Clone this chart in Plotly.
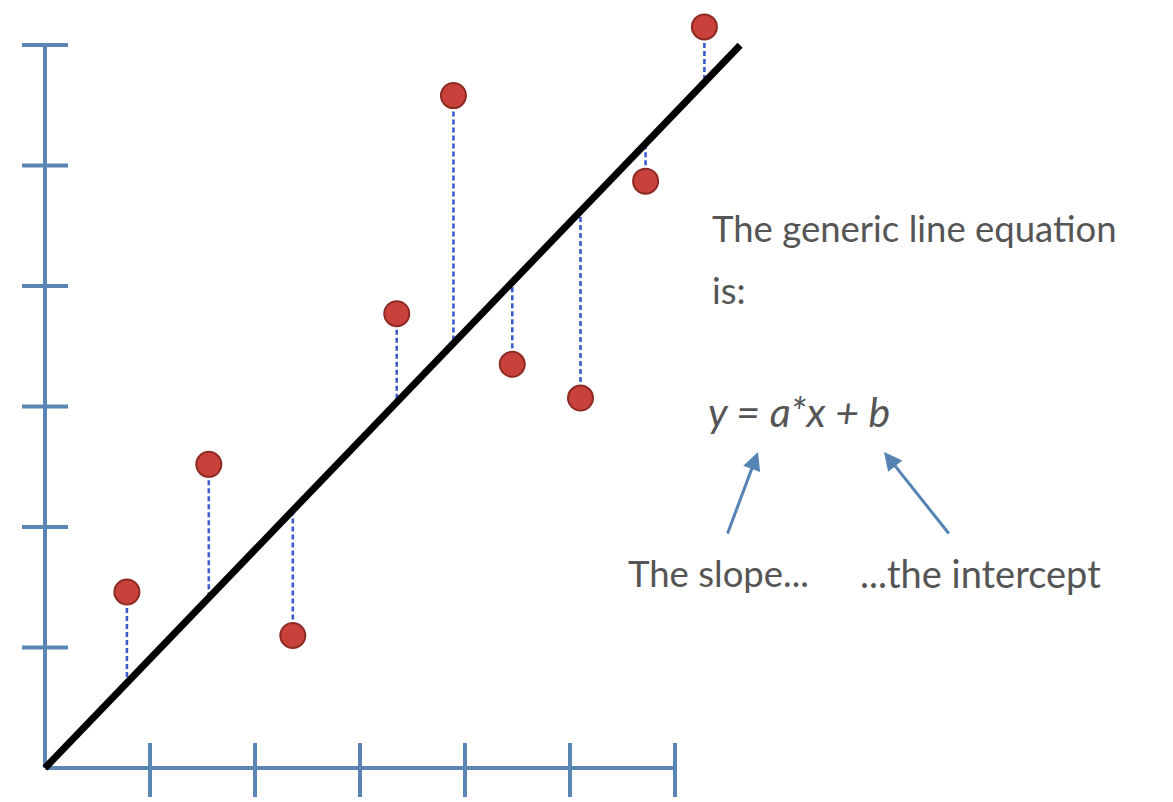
import plotly.graph_objects as go

# Observations (x, y) in axis units
obs_x = [0.78, 1.56, 2.36, 3.35, 3.89, 4.45, 5.10, 5.72, 6.28]
obs_y = [1.46, 2.52, 1.10, 3.77, 5.58, 3.35, 3.07, 4.87, 6.15]

# Fitted line y = slope * x + intercept
slope = 0.906
intercept = 0.0
line_x_end = 6.62

x_ticks = [1, 2, 3, 4, 5, 6]
y_ticks = [1, 2, 3, 4, 5, 6]

AXIS_BLUE = "#5a86b5"
ARROW_BLUE = "#5583b4"
TEXT_GREY = "#555555"

fig = go.Figure()

# Residual segments from each observation to the fitted line
for xo, yo in zip(obs_x, obs_y):
    yf = slope * xo + intercept
    fig.add_trace(go.Scatter(
        x=[xo, xo], y=[yo, yf], mode="lines",
        line=dict(color="#3a5ccc", width=2.6, dash="5px,3px"),
        hoverinfo="skip", showlegend=False))

# Axis lines
fig.add_trace(go.Scatter(x=[0, 0], y=[0, y_ticks[-1]], mode="lines",
                         line=dict(color=AXIS_BLUE, width=4),
                         hoverinfo="skip", showlegend=False))
fig.add_trace(go.Scatter(x=[0, x_ticks[-1]], y=[0, 0], mode="lines",
                         line=dict(color=AXIS_BLUE, width=4),
                         hoverinfo="skip", showlegend=False))

# Tick marks crossing the axes
shapes = []
for t in y_ticks:
    shapes.append(dict(type="line", xref="x", yref="y", xsizemode="pixel",
                       xanchor=0, x0=-23, x1=23, y0=t, y1=t,
                       line=dict(color=AXIS_BLUE, width=4)))
for t in x_ticks:
    shapes.append(dict(type="line", xref="x", yref="y", ysizemode="pixel",
                       yanchor=0, y0=-29, y1=25, x0=t, x1=t,
                       line=dict(color=AXIS_BLUE, width=4)))

# Fitted line
fig.add_trace(go.Scatter(
    x=[0, line_x_end], y=[intercept, slope * line_x_end + intercept],
    mode="lines", line=dict(color="black", width=7),
    hoverinfo="skip", showlegend=False))

# Observations
fig.add_trace(go.Scatter(
    x=obs_x, y=obs_y, mode="markers",
    marker=dict(size=25, color="#c8413a", line=dict(color="#8e2a24", width=2)),
    hoverinfo="skip", showlegend=False))

FONT = "Lato, 'Open Sans', sans-serif"
annotations = [
    dict(text="The generic line equation", x=710 / 1173, y=1 - 228 / 802, size=36.5),
    dict(text="is:", x=710 / 1173, y=1 - 290 / 802, size=36.5),
    dict(text="<i>y = a*x + b</i>", x=706 / 1173, y=1 - 411 / 802, size=41),
    dict(text="The slope...", x=626 / 1173, y=1 - 573 / 802, size=36.5),
    dict(text="...the intercept", x=858 / 1173, y=1 - 573 / 802, size=38),
]
for a in annotations:
    size = a.pop("size")
    a.update(xref="paper", yref="paper", xanchor="left", yanchor="middle",
             showarrow=False, font=dict(family=FONT, size=size, color=TEXT_GREY))

# Arrows pointing at the slope and the intercept
for (tx, ty, hx, hy) in [(727, 535, 758, 452), (950, 535, 884, 452)]:
    annotations.append(dict(
        xref="paper", yref="paper", axref="pixel", ayref="pixel",
        x=hx / 1173, y=1 - hy / 802, ax=tx - hx, ay=ty - hy,
        text="", showarrow=True, arrowhead=2, arrowsize=1.2,
        arrowwidth=3, arrowcolor=ARROW_BLUE))

x_lo = -45 / 105
x_hi = (1173 - 45) / 105
y_lo = (768 - 802) / 120.5
y_hi = 768 / 120.5

fig.update_layout(
    width=1173, height=802,
    margin=dict(l=0, r=0, t=0, b=0),
    paper_bgcolor="white", plot_bgcolor="white",
    xaxis=dict(range=[x_lo, x_hi], visible=False, fixedrange=True),
    yaxis=dict(range=[y_lo, y_hi], visible=False, fixedrange=True),
    shapes=shapes, annotations=annotations,
    showlegend=False,
)

fig.write_html("out.html")
